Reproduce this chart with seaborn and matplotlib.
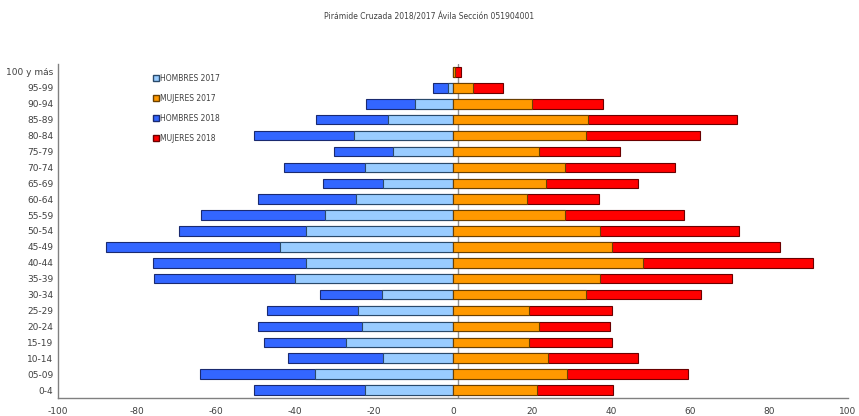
import numpy as np
import pandas as pd
import seaborn as sns
import matplotlib.pyplot as plt
from matplotlib.lines import Line2D

grupos = ["100 y más", "95-99", "90-94", "85-89", "80-84", "75-79", "70-74",
          "65-69", "60-64", "55-59", "50-54", "45-49", "40-44", "35-39",
          "30-34", "25-29", "20-24", "15-19", "10-14", "05-09", "0-4"]

hombres_2017 = [0, 1.3, 9.7, 16.4, 25.0, 15.2, 22.2, 17.6, 24.6, 32.4, 37.2,
                43.7, 37.2, 40.1, 18.1, 24.1, 23.0, 27.2, 17.7, 34.9, 22.4]
hombres_2018 = [0, 3.7, 12.3, 18.3, 25.5, 14.9, 20.7, 15.4, 24.7, 31.4, 32.1,
                44.1, 38.8, 35.5, 15.5, 23.0, 26.3, 20.6, 24.0, 29.2, 28.1]
mujeres_2017 = [0.6, 5.0, 20.0, 34.3, 33.6, 21.8, 28.4, 23.6, 18.8, 28.4, 37.3,
                40.2, 48.0, 37.3, 33.6, 19.3, 21.8, 19.3, 24.0, 28.9, 21.2]
mujeres_2018 = [1.4, 7.6, 18.0, 37.5, 29.0, 20.4, 27.7, 23.3, 18.1, 30.0, 35.2,
                42.5, 43.1, 33.4, 29.2, 21.0, 18.0, 21.0, 22.9, 30.7, 19.3]

df = pd.DataFrame({
    "grupo": grupos,
    "h17": -np.array(hombres_2017),
    "h_tot": -(np.array(hombres_2017) + np.array(hombres_2018)),
    "m17": np.array(mujeres_2017),
    "m_tot": np.array(mujeres_2017) + np.array(mujeres_2018),
})

c_h17 = "#99CCFF"
c_h18 = "#3366FF"
c_m17 = "#FF9900"
c_m18 = "#FF0000"

sns.set_style("white")
plt.rcParams["axes.unicode_minus"] = False
fig = plt.figure(figsize=(8.59, 4.16), dpi=100)
ax = fig.add_axes([58 / 859, 1 - 398 / 416, 790 / 859, 334 / 416])

w = 0.6
sns.barplot(data=df, y="grupo", x="h_tot", color=c_h18, orient="h", width=w,
            edgecolor="#1a2a70", linewidth=0.8, ax=ax, saturation=1)
sns.barplot(data=df, y="grupo", x="h17", color=c_h17, orient="h", width=w,
            edgecolor="#2a4a6a", linewidth=0.8, ax=ax, saturation=1)
sns.barplot(data=df, y="grupo", x="m_tot", color=c_m18, orient="h", width=w,
            edgecolor="#6a0000", linewidth=0.8, ax=ax, saturation=1)
sns.barplot(data=df, y="grupo", x="m17", color=c_m17, orient="h", width=w,
            edgecolor="#6a4000", linewidth=0.8, ax=ax, saturation=1)

ax.axvline(1.2, color="#909090", lw=1, zorder=0.5)

ax.set_xlim(-100, 100)
ax.set_ylim(len(grupos) - 0.5, -0.5)
ax.set_xticks(range(-100, 101, 20))
ax.set_xlabel("")
ax.set_ylabel("")
ax.tick_params(axis="both", labelsize=6.5, colors="#404040", length=3)
ax.tick_params(axis="y", length=0)
for s in ["top", "right"]:
    ax.spines[s].set_visible(False)
for s in ["left", "bottom"]:
    ax.spines[s].set_color("#808080")
    ax.spines[s].set_linewidth(1)

handles = [
    Line2D([], [], marker="s", ls="", color=c_h17, markeredgecolor="#2a4a6a", markersize=4),
    Line2D([], [], marker="s", ls="", color=c_m17, markeredgecolor="#6a4000", markersize=4),
    Line2D([], [], marker="s", ls="", color=c_h18, markeredgecolor="#1a2a70", markersize=4),
    Line2D([], [], marker="s", ls="", color=c_m18, markeredgecolor="#6a0000", markersize=4),
]
labels = ["HOMBRES 2017", "MUJERES 2017", "HOMBRES 2018", "MUJERES 2018"]
fig.legend(handles, labels, loc="upper left", bbox_to_anchor=(146 / 859, 1 - 67 / 416),
           frameon=False, fontsize=5.5, labelspacing=1.45, handletextpad=0.1,
           handlelength=0.8, labelcolor="#404040")

fig.text(0.5, 1 - 17 / 416, "Pirámide Cruzada 2018/2017 Ávila Sección 051904001",
         ha="center", va="center", fontsize=5.5, color="#404040")

fig.savefig("out.png", dpi=100)
